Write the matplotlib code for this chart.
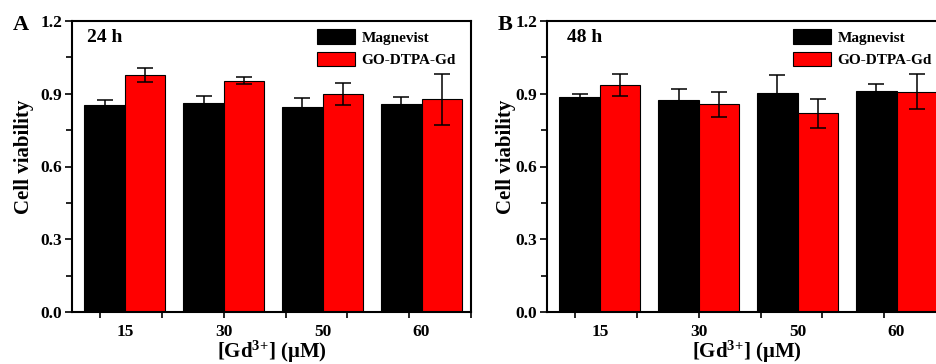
import numpy as np
import matplotlib
matplotlib.use('Agg')
import matplotlib.pyplot as plt

plt.rcParams['font.family'] = 'Liberation Serif'
plt.rcParams['font.weight'] = 'bold'
plt.rcParams['mathtext.fontset'] = 'custom'
plt.rcParams['mathtext.rm'] = 'Liberation Serif:bold'
plt.rcParams['mathtext.it'] = 'Liberation Serif:bold'
plt.rcParams['mathtext.bf'] = 'Liberation Serif:bold'

conc = ['15', '30', '50', '60']
series = ['Magnevist', 'GO-DTPA-Gd']

# 24 h
mag_24 = [0.854, 0.863, 0.845, 0.859]
mag_24_err = [0.019, 0.026, 0.036, 0.029]
go_24 = [0.976, 0.954, 0.899, 0.877]
go_24_err = [0.029, 0.014, 0.044, 0.104]

# 48 h
mag_48 = [0.888, 0.874, 0.902, 0.912]
mag_48_err = [0.010, 0.047, 0.075, 0.029]
go_48 = [0.936, 0.856, 0.819, 0.908]
go_48_err = [0.047, 0.051, 0.061, 0.072]

W, H = 936, 364
fig = plt.figure(figsize=(W / 100, H / 100), dpi=100)


def panel(rect, letter, time, mag, mag_err, go, go_err, leg_x, txt_x,
          let_x, ylab_x):
    ax = fig.add_axes(rect)
    x = np.arange(1, len(conc) + 1)
    w = 0.41
    eb = dict(ecolor='black', elinewidth=1.1, capsize=6, capthick=1.1)
    ax.bar(x - w / 2, mag, w, yerr=mag_err, color='black', edgecolor='black',
           linewidth=0.8, error_kw=eb, label=series[0])
    ax.bar(x + w / 2, go, w, yerr=go_err, color='#ff0000', edgecolor='black',
           linewidth=0.8, error_kw=eb, label=series[1])
    ax.set_ylim(0, 1.2)
    ax.set_xlim(0.465, 4.49)
    ax.set_yticks([0, 0.3, 0.6, 0.9, 1.2])
    ax.set_yticks([0.15, 0.45, 0.75, 1.05], minor=True)
    ax.set_xticks(x)
    ax.set_xticklabels(conc)
    ax.set_xticks(0.75 + 0.625 * np.arange(7), minor=True)
    ax.xaxis.remove_overlapping_locs = False
    ax.tick_params(axis='both', which='major', direction='out', width=1.2,
                   labelsize=12.5)
    ax.tick_params(axis='x', which='major', length=0, pad=9)
    ax.tick_params(axis='y', which='major', length=5, pad=2)
    ax.tick_params(axis='both', which='minor', direction='out', length=4,
                   width=1.2)
    for s in ax.spines.values():
        s.set_linewidth(1.5)
    ax.set_ylabel('Cell viability', fontsize=15, fontweight='bold')
    ax.yaxis.set_label_coords(ylab_x, 0.533)
    ax.set_xlabel('[Gd$^{3{+}}$] (\u03bcM)', fontsize=15, fontweight='bold',
                  labelpad=-1)
    ax.text(txt_x, 0.945, time, transform=ax.transAxes, fontsize=14,
            fontweight='bold', va='center', ha='left')
    ax.text(let_x, 0.985, letter, transform=ax.transAxes, fontsize=16,
            fontweight='bold', va='center', ha='left')
    ax.legend(loc='upper left', bbox_to_anchor=(leg_x, 0.972), frameon=False,
              handlelength=2.5, handleheight=1.1,
              labelspacing=0.45, handletextpad=0.4, borderpad=0,
              borderaxespad=0, prop={'weight': 'bold', 'size': 11})
    return ax


panel([72 / W, 52 / H, 399 / W, 291 / H], 'A', '24 h',
      mag_24, mag_24_err, go_24, go_24_err, 0.614, 0.037, -0.148, -0.095)
panel([547 / W, 52 / H, 399 / W, 291 / H], 'B', '48 h',
      mag_48, mag_48_err, go_48, go_48_err, 0.617, 0.05, -0.125, -0.078)

fig.savefig('out.png', dpi=100)
